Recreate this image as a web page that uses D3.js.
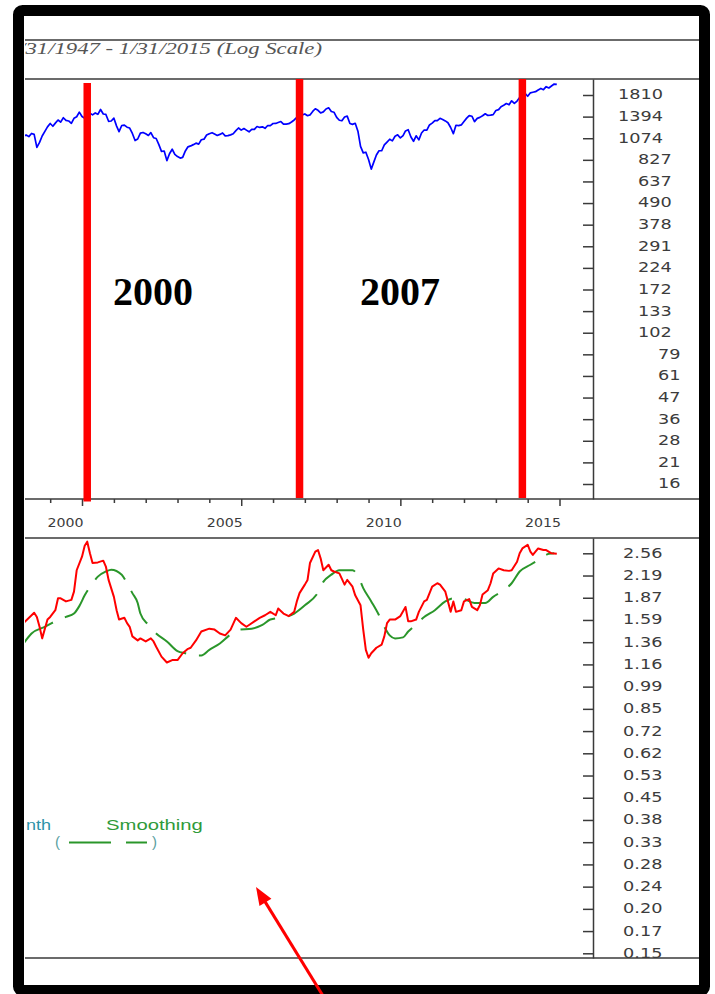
<!DOCTYPE html>
<html>
<head>
<meta charset="utf-8">
<script src="https://cdn.jsdelivr.net/npm/d3@7"></script>
<style>
  html, body { margin: 0; padding: 0; background: #fff; }
  svg { display: block; }
</style>
</head>
<body>
<svg id="chart" width="715" height="994"></svg>
<script>
// ---------------------------------------------------------------
// Data
// ---------------------------------------------------------------

// S&P 500 month-end closes, one value per month starting Jan 1998
const priceStart = "1998-01";
const priceValues = [
  980, 1049, 1102, 1112, 1091, 1134, 1121, 957, 1017, 1099, 1164, 1229,
  1280, 1238, 1286, 1335, 1302, 1373, 1329, 1320, 1283, 1363, 1389, 1469,
  1394, 1366, 1499, 1452, 1421, 1455, 1431, 1518, 1437, 1429, 1315, 1320,
  1366, 1240, 1160, 1249, 1256, 1224, 1211, 1134, 1041, 1060, 1139, 1148,
  1130, 1107, 1147, 1077, 1067, 990, 912, 916, 815, 886, 936, 880,
  856, 841, 848, 917, 964, 975, 990, 1008, 996, 1051, 1058, 1112,
  1131, 1145, 1126, 1107, 1121, 1141, 1102, 1104, 1115, 1130, 1174, 1212,
  1181, 1204, 1181, 1157, 1192, 1191, 1234, 1220, 1229, 1207, 1249, 1248,
  1280, 1281, 1295, 1311, 1270, 1270, 1277, 1304, 1336, 1378, 1401, 1418,
  1438, 1407, 1421, 1482, 1531, 1503, 1455, 1474, 1527, 1549, 1481, 1468,
  1379, 1331, 1323, 1386, 1400, 1280, 1267, 1283, 1166, 969, 896, 903,
  826, 735, 798, 873, 919, 919, 987, 1021, 1057, 1036, 1096, 1115,
  1074, 1104, 1169, 1187, 1089, 1031, 1102, 1049, 1141, 1183, 1181, 1258,
  1286, 1327, 1326, 1364, 1345, 1321, 1292, 1219, 1131, 1253, 1247, 1258,
  1312, 1366, 1408, 1398, 1310, 1362, 1379, 1407, 1441, 1412, 1416, 1426,
  1498, 1515, 1569, 1598, 1631, 1606, 1686, 1633, 1682, 1757, 1806, 1848,
  1783, 1859, 1872, 1884, 1924, 1960, 1931, 2003, 1972, 2018, 2068, 2059
];

// Valuation ratio (lower panel, red)
const ratioPoints = [
  ["1998-03",1.56],["1998-07",1.68],["1998-08",1.63],["1998-09",1.52],["1998-10",1.40],
  ["1998-12",1.60],["1999-01",1.63],["1999-03",1.71],["1999-04",1.86],["1999-05",1.86],
  ["1999-07",1.82],["1999-09",1.84],["1999-10",1.95],["1999-11",2.27],["2000-01",2.50],
  ["2000-02",2.70],["2000-03",2.78],["2000-04",2.56],["2000-05",2.39],["2000-07",2.40],
  ["2000-09",2.43],["2000-10",2.33],["2000-11",2.12],["2001-01",1.88],["2001-02",1.71],
  ["2001-03",1.60],["2001-05",1.62],["2001-06",1.56],["2001-07",1.52],["2001-08",1.42],
  ["2001-10",1.38],["2001-11",1.40],["2002-01",1.37],["2002-03",1.40],["2002-04",1.37],
  ["2002-05",1.32],["2002-07",1.23],["2002-09",1.18],["2002-11",1.20],["2003-01",1.20],
  ["2003-03",1.26],["2003-05",1.30],["2003-06",1.31],["2003-08",1.38],["2003-10",1.47],
  ["2004-01",1.50],["2004-03",1.49],["2004-05",1.45],["2004-07",1.43],["2004-09",1.49],
  ["2004-11",1.62],["2005-01",1.56],["2005-03",1.52],["2005-04",1.54],["2005-06",1.58],
  ["2005-08",1.62],["2005-10",1.65],["2005-12",1.69],["2006-02",1.65],["2006-03",1.73],
  ["2006-05",1.67],["2006-07",1.64],["2006-09",1.69],["2006-10",1.82],["2006-11",1.93],
  ["2007-01",2.05],["2007-02",2.12],["2007-03",2.39],["2007-05",2.59],["2007-06",2.62],
  ["2007-07",2.47],["2007-08",2.27],["2007-10",2.36],["2007-11",2.27],["2007-12",2.25],
  ["2008-02",2.22],["2008-04",2.05],["2008-05",2.12],["2008-07",2.02],["2008-08",1.90],
  ["2008-10",1.77],["2008-11",1.49],["2008-12",1.29],["2009-01",1.22],["2009-02",1.26],
  ["2009-04",1.31],["2009-06",1.34],["2009-07",1.42],["2009-08",1.56],["2009-09",1.60],
  ["2009-11",1.60],["2010-01",1.64],["2010-03",1.75],["2010-04",1.58],["2010-05",1.58],
  ["2010-07",1.60],["2010-08",1.69],["2010-10",1.82],["2010-11",1.84],["2011-01",2.02],
  ["2011-03",2.07],["2011-04",2.05],["2011-06",1.95],["2011-07",1.82],["2011-08",1.69],
  ["2011-09",1.82],["2011-10",1.69],["2011-12",1.71],["2012-01",1.82],["2012-03",1.85],
  ["2012-04",1.75],["2012-06",1.71],["2012-07",1.77],["2012-08",1.91],["2012-10",1.97],
  ["2012-11",2.07],["2012-12",2.22],["2013-02",2.30],["2013-04",2.27],["2013-06",2.26],
  ["2013-07",2.27],["2013-09",2.41],["2013-10",2.56],["2013-11",2.65],["2014-01",2.72],
  ["2014-02",2.59],["2014-03",2.53],["2014-05",2.65],["2014-07",2.62],["2014-08",2.62],
  ["2014-10",2.56],["2014-12",2.55]
];

// Smoothed ratio (lower panel, green dashed)
const smoothPoints = [
  ["1998-03",1.35],["1998-06",1.45],["1998-11",1.52],["1999-03",1.58],["1999-07",1.63],
  ["1999-10",1.67],["1999-12",1.76],["2000-02",1.90],["2000-05",2.07],["2000-07",2.17],
  ["2000-10",2.25],["2000-12",2.28],["2001-04",2.20],["2001-06",2.07],["2001-08",1.93],
  ["2001-10",1.80],["2001-11",1.67],["2002-02",1.54],["2002-05",1.45],["2002-09",1.37],
  ["2003-01",1.28],["2003-04",1.26],["2003-08",1.24],["2003-10",1.24],["2004-01",1.29],
  ["2004-05",1.35],["2004-09",1.44],["2004-12",1.49],["2005-05",1.50],["2005-09",1.54],
  ["2005-12",1.60],["2006-06",1.63],["2006-09",1.67],["2007-01",1.77],["2007-06",1.94],
  ["2007-08",2.09],["2007-11",2.20],["2008-02",2.27],["2008-05",2.27],["2008-07",2.27],
  ["2008-09",2.18],["2008-11",2.00],["2009-02",1.82],["2009-05",1.65],["2009-07",1.52],
  ["2009-09",1.43],["2009-11",1.40],["2010-02",1.41],["2010-04",1.47],["2010-06",1.52],
  ["2010-10",1.63],["2011-02",1.71],["2011-06",1.82],["2011-09",1.86],["2011-12",1.86],
  ["2012-05",1.80],["2012-09",1.80],["2012-12",1.88],["2013-04",1.97],["2013-07",2.07],
  ["2013-10",2.25],["2014-02",2.36],["2014-05",2.44],["2014-09",2.55],["2014-11",2.56]
];

// Axis tick labels
const priceTickLabels = ["1810","1394","1074","827","637","490","378","291","224","172",
                         "133","102","79","61","47","36","28","21","16"];
const ratioTickLabels = ["2.56","2.19","1.87","1.59","1.36","1.16","0.99","0.85","0.72","0.62",
                         "0.53","0.45","0.38","0.33","0.28","0.24","0.20","0.17","0.15"];
const yearTicks = d3.range(1999, 2016);
const labelledYears = [2000, 2005, 2010, 2015];

// Highlighted turning points
const markerMonths = ["2000-03", "2006-11", "2013-11"];
const markerLabels = ["2000", "2007"];

// ---------------------------------------------------------------
// Layout
// ---------------------------------------------------------------
const svg = d3.select("#chart");
const inner = { x0: 25, x1: 699, y0: 16, y1: 985 };
const plotRight = 593;
const upper = { top: 79, bottom: 499 };
const lower = { top: 538, bottom: 958 };
const ruleYs = [40, upper.top, upper.bottom, lower.top, lower.bottom];
const gridColor = "#3a3a3a";
const labelColor = "#3c3c3c";

const parseMonth = d3.timeParse("%Y-%m");

// time scale anchored on the labelled years, then widened to the plot edges
const x = d3.scaleTime()
  .domain([new Date(2000, 0, 1), new Date(2015, 0, 1)])
  .range([82, 559.5]);
x.domain([x.invert(inner.x0), x.invert(plotRight)]).range([inner.x0, plotRight]);

const yPrice = d3.scaleLog().domain([16, 1810]).range([484, 95]);
yPrice.domain([yPrice.invert(upper.bottom), yPrice.invert(upper.top)])
      .range([upper.bottom, upper.top]);

const yRatio = d3.scaleLog().domain([0.15, 2.56]).range([953.3, 553.3]);
yRatio.domain([yRatio.invert(lower.bottom), yRatio.invert(lower.top)])
      .range([lower.bottom, lower.top]);

// evenly spaced log ticks between the first and last printed label
function logTickValues(labels) {
  const hi = +labels[0], lo = +labels[labels.length - 1], n = labels.length - 1;
  return labels.map((_, i) => hi * Math.pow(lo / hi, i / n));
}

// widen text horizontally by a factor
function stretch(sel, f) {
  sel.each(function () {
    const w = this.getComputedTextLength();
    if (w > 0) d3.select(this).attr("textLength", w * f).attr("lengthAdjust", "spacingAndGlyphs");
  });
}

// ---------------------------------------------------------------
// Background, clip regions
// ---------------------------------------------------------------
svg.append("rect").attr("width", 715).attr("height", 994).attr("fill", "#fff");

const defs = svg.append("defs");
defs.append("clipPath").attr("id", "clip-inner").append("rect")
  .attr("x", inner.x0).attr("y", inner.y0)
  .attr("width", inner.x1 - inner.x0).attr("height", inner.y1 - inner.y0);
defs.append("clipPath").attr("id", "clip-upper").append("rect")
  .attr("x", inner.x0).attr("y", upper.top)
  .attr("width", plotRight - inner.x0).attr("height", upper.bottom - upper.top);
defs.append("clipPath").attr("id", "clip-lower").append("rect")
  .attr("x", inner.x0).attr("y", lower.top)
  .attr("width", plotRight - inner.x0).attr("height", lower.bottom - lower.top);

const content = svg.append("g").attr("clip-path", "url(#clip-inner)");

// ---------------------------------------------------------------
// Title
// ---------------------------------------------------------------
const title = content.append("text")
  .attr("x", 322).attr("y", 54)
  .attr("text-anchor", "end")
  .attr("font-family", "'Liberation Serif', 'DejaVu Serif', serif")
  .attr("font-style", "italic")
  .attr("font-size", 16)
  .attr("fill", "#555")
  .text("1/31/1947 - 1/31/2015 (Log Scale)");
stretch(title, 1.42);

// ---------------------------------------------------------------
// Horizontal rules
// ---------------------------------------------------------------
content.selectAll("line.rule").data(ruleYs).join("line")
  .attr("class", "rule")
  .attr("x1", inner.x0).attr("x2", inner.x1)
  .attr("y1", d => d).attr("y2", d => d)
  .attr("stroke", gridColor).attr("stroke-width", 1.5);

// ---------------------------------------------------------------
// Right-hand value axes
// ---------------------------------------------------------------
function valueAxis(scale, labels, labelX) {
  const vals = logTickValues(labels);
  const g = content.append("g").attr("transform", `translate(${plotRight},0)`)
    .call(d3.axisRight(scale).tickValues(vals)
      .tickSizeInner(-10).tickSizeOuter(0)
      .tickFormat((d, i) => labels[i]));
  g.select(".domain").attr("stroke", gridColor).attr("stroke-width", 1.5);
  g.selectAll(".tick line").attr("stroke", gridColor).attr("stroke-width", 1.5);
  const t = g.selectAll(".tick text")
    .attr("x", (d, i) => labelX(labels[i]))
    .attr("y", -1)
    .attr("dy", "0.34em")
    .attr("text-anchor", "start")
    .attr("font-family", "'DejaVu Sans', Verdana, sans-serif")
    .attr("font-size", 14.5)
    .attr("fill", labelColor);
  stretch(t, 1.22);
  return g;
}
valueAxis(yPrice, priceTickLabels, s => 25 + (4 - s.length) * 20);
valueAxis(yRatio, ratioTickLabels, () => 30);

// ---------------------------------------------------------------
// Year axis
// ---------------------------------------------------------------
const xAxisG = content.append("g").attr("transform", `translate(0,${upper.bottom})`)
  .call(d3.axisBottom(x)
    .tickValues(yearTicks.map(yr => new Date(yr, 0, 1)))
    .tickSizeOuter(0)
    .tickFormat(d => labelledYears.includes(d.getFullYear()) ? String(d.getFullYear()) : ""));
xAxisG.select(".domain").remove();
xAxisG.selectAll(".tick line")
  .attr("y2", d => labelledYears.includes(d.getFullYear()) ? 7 : 4)
  .attr("stroke", gridColor).attr("stroke-width", 1.5);
const yearText = xAxisG.selectAll(".tick text")
  .attr("x", 1).attr("y", 28).attr("dy", 0)
  .attr("text-anchor", "end")
  .attr("font-family", "'DejaVu Sans', Verdana, sans-serif")
  .attr("font-size", 12)
  .attr("fill", labelColor);
stretch(yearText, 1.18);

// ---------------------------------------------------------------
// Series
// ---------------------------------------------------------------
const priceSeries = priceValues.map((v, i) => ({
  date: d3.timeMonth.offset(parseMonth(priceStart), i), value: v
}));
const ratioSeries = ratioPoints.map(([m, v]) => ({ date: parseMonth(m), value: v }));
const smoothSeries = smoothPoints.map(([m, v]) => ({ date: parseMonth(m), value: v }));

content.append("g").attr("clip-path", "url(#clip-upper)")
  .append("path")
  .datum(priceSeries)
  .attr("fill", "none")
  .attr("stroke", "#0000ff")
  .attr("stroke-width", 1.7)
  .attr("stroke-linejoin", "round")
  .attr("d", d3.line().x(d => x(d.date)).y(d => yPrice(d.value)));

const lowerG = content.append("g").attr("clip-path", "url(#clip-lower)");
lowerG.append("path")
  .datum(smoothSeries)
  .attr("fill", "none")
  .attr("stroke", "#2a962a")
  .attr("stroke-width", 2)
  .attr("stroke-dasharray", "37,13")
  .attr("d", d3.line().curve(d3.curveMonotoneX).x(d => x(d.date)).y(d => yRatio(d.value)));
lowerG.append("path")
  .datum(ratioSeries)
  .attr("fill", "none")
  .attr("stroke", "#ff0000")
  .attr("stroke-width", 2)
  .attr("stroke-linejoin", "round")
  .attr("d", d3.line().x(d => x(d.date)).y(d => yRatio(d.value)));

// ---------------------------------------------------------------
// Turning-point markers
// ---------------------------------------------------------------
const markerTops = [83, upper.top, upper.top];
const markerBottoms = [501.5, 498, 498];
content.selectAll("line.marker").data(markerMonths).join("line")
  .attr("class", "marker")
  .attr("x1", d => x(parseMonth(d))).attr("x2", d => x(parseMonth(d)))
  .attr("y1", (d, i) => markerTops[i]).attr("y2", (d, i) => markerBottoms[i])
  .attr("stroke", "#ff0000").attr("stroke-width", 7.5);

const markerLabelX = [113, 360];
content.selectAll("text.marker-label").data(markerLabels).join("text")
  .attr("class", "marker-label")
  .attr("x", (d, i) => markerLabelX[i]).attr("y", 305)
  .attr("font-family", "'Liberation Serif', 'Times New Roman', serif")
  .attr("font-weight", "bold")
  .attr("font-size", 40)
  .attr("fill", "#000")
  .text(d => d);

// ---------------------------------------------------------------
// Legend
// ---------------------------------------------------------------
const legend = content.append("g")
  .attr("font-family", "'Liberation Sans', Arial, sans-serif")
  .attr("font-size", 15);
const lgMonth = legend.append("text").attr("x", 26).attr("y", 830)
  .attr("fill", "#2d93a8").text("nth");
const lgSmooth = legend.append("text").attr("x", 106).attr("y", 830)
  .attr("fill", "#2f9a3a").text("Smoothing");
stretch(lgMonth, 1.2);
stretch(lgSmooth, 1.35);
legend.append("text").attr("x", 55).attr("y", 847).attr("fill", "#5aa0a0").text("(");
legend.append("text").attr("x", 152).attr("y", 847).attr("fill", "#5aa0a0").text(")");
legend.selectAll("line").data([[69, 111], [126, 147]]).join("line")
  .attr("x1", d => d[0]).attr("x2", d => d[1])
  .attr("y1", 842.5).attr("y2", 842.5)
  .attr("stroke", "#2a962a").attr("stroke-width", 2);

// ---------------------------------------------------------------
// Frame
// ---------------------------------------------------------------
svg.append("rect")
  .attr("x", 18.5).attr("y", 10.5)
  .attr("width", 686).attr("height", 980)
  .attr("rx", 4)
  .attr("fill", "none")
  .attr("stroke", "#000")
  .attr("stroke-width", 11);

// ---------------------------------------------------------------
// Pointer arrow
// ---------------------------------------------------------------
const tip = [256, 887], tail = [328, 1004];
const len = Math.hypot(tail[0] - tip[0], tail[1] - tip[1]);
const ux = (tail[0] - tip[0]) / len, uy = (tail[1] - tip[1]) / len;
const headLen = 18, headHalf = 7;
const base = [tip[0] + ux * headLen, tip[1] + uy * headLen];
svg.append("line")
  .attr("x1", base[0] - ux * 2).attr("y1", base[1] - uy * 2)
  .attr("x2", tail[0]).attr("y2", tail[1])
  .attr("stroke", "#ff0000").attr("stroke-width", 3);
svg.append("polygon")
  .attr("points", [
    tip,
    [base[0] - uy * headHalf, base[1] + ux * headHalf],
    [base[0] + uy * headHalf, base[1] - ux * headHalf]
  ].map(p => p.join(",")).join(" "))
  .attr("fill", "#ff0000");
</script>
</body>
</html>
